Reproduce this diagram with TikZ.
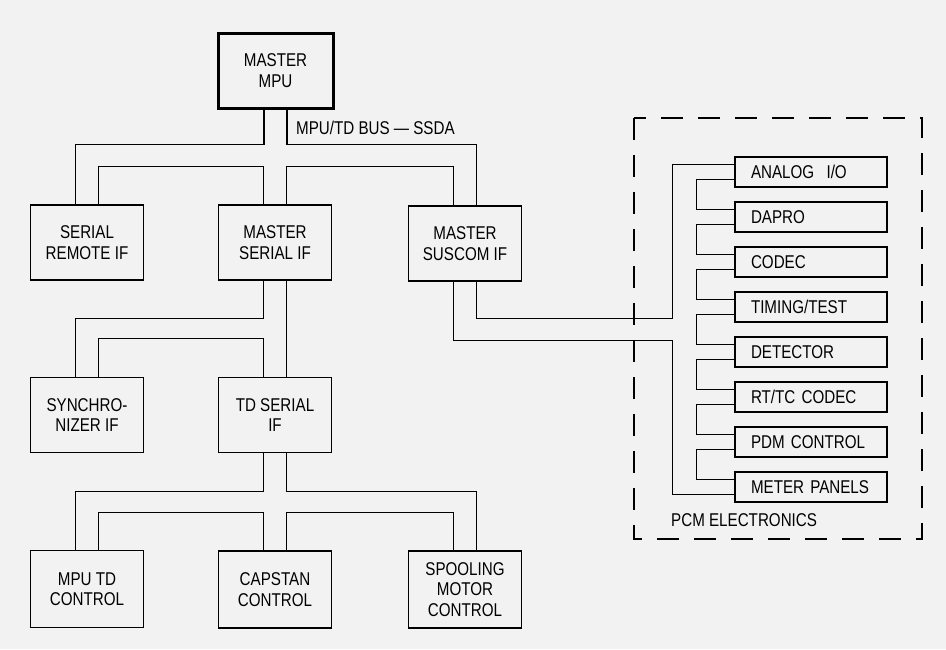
\documentclass[tikz,border=0pt]{standalone}
\usepackage{fontspec}
\setmainfont{Liberation Sans}[FakeStretch=0.82]
\usetikzlibrary{calc}

\newcommand{\lblfont}{\fontsize{18.5}{20.5}\selectfont}

\begin{document}
\begin{tikzpicture}[x=1pt,y=-1pt,
  ifbox/.style={draw,line width=1.8pt,minimum width=113pt,minimum height=75pt,align=center,inner sep=2pt,font=\lblfont},
  pcmbox/.style={draw,line width=1.8pt,minimum height=30pt,text width=120pt,inner xsep=16pt,inner ysep=0pt,align=left,font=\lblfont},
  bus/.style={line width=1.1pt}]
\useasboundingbox (0,0) rectangle (946,649);
%Background
\fill [black!5] (0,0) rectangle (946,649);

%Boxes: processor tree
\node [ifbox,line width=3pt,minimum width=115pt,minimum height=75pt] (mpu) at (275.5,70.5) {MASTER\\MPU};
\node [ifbox] (remote) at (87,242.5) {SERIAL\\REMOTE IF};
\node [ifbox] (mserial) at (275,242.5) {MASTER\\SERIAL IF};
\node [ifbox] (suscom) at (465,243.5) {MASTER\\SUSCOM IF};
\node [ifbox] (synchro) at (87,415) {SYNCHRO-\\NIZER IF};
\node [ifbox] (tdserial) at (275,415) {TD SERIAL\\IF};
\node [ifbox,minimum height=77pt] (mputd) at (87,589) {MPU TD\\CONTROL};
\node [ifbox,minimum height=77pt] (capstan) at (275,589.5) {CAPSTAN\\CONTROL};
\node [ifbox,minimum height=77pt] (spool) at (465,589.5) {SPOOLING\\MOTOR\\CONTROL};

%Boxes: PCM electronics
\node [pcmbox] (analog) at (811,172) {ANALOG\ \ I/O};
\node [pcmbox] (dapro) at (811,217) {DAPRO};
\node [pcmbox] (codec) at (811,262) {CODEC};
\node [pcmbox] (timing) at (811,307) {TIMING/TEST};
\node [pcmbox] (detector) at (811,352) {DETECTOR};
\node [pcmbox] (rtcodec) at (811,397) {RT/TC CODEC};
\node [pcmbox] (pdm) at (811,442) {PDM CONTROL};
\node [pcmbox] (meter) at (811,487) {METER PANELS};

%Dashed outline
\draw [line width=1.4pt,dash pattern=on 22pt off 15pt] (634,118) rectangle (922,539);
% Text Node
\node [anchor=west,inner sep=0pt,font=\lblfont] (pcmlabel) at (671,520) {PCM ELECTRONICS};
% Text Node
\node [anchor=west,inner sep=0pt,font=\lblfont] (buslabel) at (296,128) {MPU/TD BUS --- SSDA};

%Bus below master MPU
\draw [bus] ($(mpu.south)+(-11.5,0)$) -- ++(0,35) -| ($(remote.north)+(-11.5,0)$);
\draw [bus] ($(mpu.south)+(11.5,0)$) -- ++(0,35) -| ($(suscom.north)+(11.5,0)$);
\draw [bus] ($(remote.north)+(11.5,0)$) -- ++(0,-38) -| ($(mserial.north)+(-11.5,0)$);
\draw [bus] ($(mserial.north)+(11.5,0)$) -- ++(0,-38) -| ($(suscom.north)+(-11.5,0)$);

%Bus below master serial IF
\draw [bus] ($(mserial.south)+(-11.5,0)$) -- ++(0,38) -| ($(synchro.north)+(-11.5,0)$);
\draw [bus] ($(mserial.south)+(11.5,0)$) -- ($(tdserial.north)+(11.5,0)$);
\draw [bus] ($(synchro.north)+(11.5,0)$) -- ++(0,-38) -| ($(tdserial.north)+(-11.5,0)$);

%Bus below TD serial IF
\draw [bus] ($(tdserial.south)+(-11.5,0)$) -- ++(0,38) -| ($(mputd.north)+(-11.5,0)$);
\draw [bus] ($(tdserial.south)+(11.5,0)$) -- ++(0,38) -| ($(spool.north)+(11.5,0)$);
\draw [bus] ($(mputd.north)+(11.5,0)$) -- ++(0,-37) -| ($(capstan.north)+(-11.5,0)$);
\draw [bus] ($(capstan.north)+(11.5,0)$) -- ++(0,-38) -| ($(spool.north)+(-11.5,0)$);

%Bus from master SUSCOM IF to PCM electronics
\draw [bus] ($(suscom.south)+(11.5,0)$) -- ++(0,37) -| ($(analog.west)+(-62,-7.5)$) -- ($(analog.west)+(0,-7.5)$);
\draw [bus] ($(suscom.south)+(-11.5,0)$) -- ++(0,59) -| ($(meter.west)+(-62,7.5)$) -- ($(meter.west)+(0,7.5)$);
\draw [bus] ($(analog.west)+(0,7.5)$) -- ++(-38,0) |- ($(dapro.west)+(0,-7.5)$);
\draw [bus] ($(dapro.west)+(0,7.5)$) -- ++(-38,0) |- ($(codec.west)+(0,-7.5)$);
\draw [bus] ($(codec.west)+(0,7.5)$) -- ++(-38,0) |- ($(timing.west)+(0,-7.5)$);
\draw [bus] ($(timing.west)+(0,7.5)$) -- ++(-38,0) |- ($(detector.west)+(0,-7.5)$);
\draw [bus] ($(detector.west)+(0,7.5)$) -- ++(-38,0) |- ($(rtcodec.west)+(0,-7.5)$);
\draw [bus] ($(rtcodec.west)+(0,7.5)$) -- ++(-38,0) |- ($(pdm.west)+(0,-7.5)$);
\draw [bus] ($(pdm.west)+(0,7.5)$) -- ++(-38,0) |- ($(meter.west)+(0,-7.5)$);
\end{tikzpicture}
\end{document}
